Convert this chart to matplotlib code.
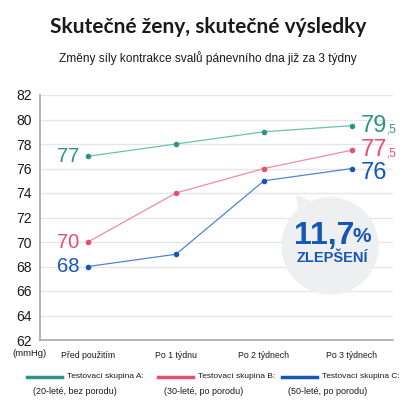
import matplotlib

matplotlib.use("Agg")

import matplotlib.pyplot as plt
from matplotlib.lines import Line2D
from matplotlib.patches import Circle, Polygon

plt.rcParams["font.family"] = ["Liberation Sans", "DejaVu Sans"]

TITLE = "Skutečné ženy, skutečné výsledky"
SUBTITLE = "Změny síly kontrakce svalů pánevního dna již za 3 týdny"
PERIODS = ["Před použitím", "Po 1 týdnu", "Po 2 týdnech", "Po 3 týdnech"]
GROUP_A = [77, 78, 79, 79.5]
GROUP_B = [70, 74, 76, 77.5]
GROUP_C = [68, 69, 75, 76]
GROUP_NAMES = ["Testovací skupina A:", "Testovací skupina B:", "Testovací skupina C:"]
GROUP_NOTES = ["(20-leté, bez porodu)", "(30-leté, po porodu)", "(50-leté, po porodu)"]
Y_TICKS = list(range(62, 83, 2))

TEXT_COLORS = ["#2E9584", "#E5506F", "#1457B5"]
LINE_COLORS = ["#6CC0B2", "#F08CA0", "#4F84D2"]
END_SHIFT = [0, 0, -3]  # end label nudge (points), keeps 76 clear of 77,5
DARK = "#1A1A1A"
GRID = "#E6E6E6"
SPINE = "#A8A8A8"

fig = plt.figure(figsize=(4.16, 4.16), dpi=100, facecolor="white")
ax = fig.add_axes((40 / 416, 1 - 340 / 416, 353 / 416, 245 / 416))

x = list(range(len(PERIODS)))
for values, lc, tc in zip([GROUP_A, GROUP_B, GROUP_C], LINE_COLORS, TEXT_COLORS):
    ax.plot(x, values, color=lc, linewidth=0.9, zorder=3)
    ax.scatter(x, values, s=9, color=tc, zorder=4)

ax.set_xlim(-48 / 88, 305 / 88)
ax.set_ylim(62, 82)
ax.set_yticks(Y_TICKS)
ax.set_yticklabels([str(t) for t in Y_TICKS], fontsize=10, color=DARK)
ax.set_xticks(x)
ax.set_xticklabels(PERIODS, fontsize=6.3, color=DARK)
ax.tick_params(axis="both", length=0)
ax.tick_params(axis="x", pad=8)
ax.tick_params(axis="y", pad=6)
ax.grid(axis="y", color=GRID, linewidth=1.0, zorder=0)
for side in ("top", "right"):
    ax.spines[side].set_visible(False)
for side in ("left", "bottom"):
    ax.spines[side].set_color(SPINE)
    ax.spines[side].set_linewidth(1.2)
fig.text(12 / 416, 1 - 353 / 416, "(mmHg)", fontsize=6.8, ha="left",
         va="center", color=DARK)

# start values (left) and end values (right)
for values, tc, dy in zip([GROUP_A, GROUP_B, GROUP_C], TEXT_COLORS, END_SHIFT):
    ax.annotate(f"{values[0]:g}", xy=(x[0], values[0]), xytext=(-6, 0),
                textcoords="offset points", ha="right", va="center",
                fontsize=14.5, color=tc)
    whole, _, frac = f"{values[-1]:g}".partition(".")
    t = ax.annotate(whole, xy=(x[-1], values[-1]), xytext=(6, dy),
                    textcoords="offset points", ha="left", va="center",
                    fontsize=17, color=tc)
    if frac:
        ax.annotate("," + frac, xycoords=t, xy=(1, 0.2), ha="left",
                    va="baseline", fontsize=8.5, color=tc)

# bubble
bubble_color = "#EEEFF1"
fig.patches.append(Circle((330 / 416, 1 - 246 / 416), 48 / 416,
                          transform=fig.transFigure, color=bubble_color, zorder=5))
fig.patches.append(Polygon([(297 / 416, 1 - 196 / 416), (300 / 416, 1 - 222 / 416),
                            (318 / 416, 1 - 205 / 416)],
                           transform=fig.transFigure, color=bubble_color, zorder=5))
fig.text(324 / 416, 1 - 236 / 416, "11,7", fontsize=23, fontweight="bold",
         color=TEXT_COLORS[2], ha="center", va="center", zorder=6)
fig.text(362 / 416, 1 - 237 / 416, "%", fontsize=15, fontweight="bold",
         color=TEXT_COLORS[2], ha="center", va="center", zorder=6)
fig.text(332 / 416, 1 - 258 / 416, "ZLEPŠENÍ", fontsize=10.5, fontweight="bold",
         color=TEXT_COLORS[2], ha="center", va="center", zorder=6)

fig.text(0.5, 1 - 27 / 416, TITLE, fontsize=15, fontweight="bold", color=DARK,
         ha="center", va="center", family=["Lato", "DejaVu Sans"])
fig.text(0.5, 1 - 58 / 416, SUBTITLE, fontsize=8.6, color=DARK,
         ha="center", va="center")

# legend
legend_x = [27, 158, 282]
for lx, name, note, tc in zip(legend_x, GROUP_NAMES, GROUP_NOTES, TEXT_COLORS):
    fig.lines.append(Line2D([lx / 416, (lx + 35) / 416], [1 - 377 / 416] * 2,
                            transform=fig.transFigure, color=tc, linewidth=2.5))
    fig.text((lx + 40) / 416, 1 - 377 / 416, name, fontsize=6, color=DARK,
             ha="left", va="center")
    fig.text((lx + 6) / 416, 1 - 392 / 416, note, fontsize=6.5, color=DARK,
             ha="left", va="center")

fig.savefig("out.png", dpi=100, facecolor="white")
